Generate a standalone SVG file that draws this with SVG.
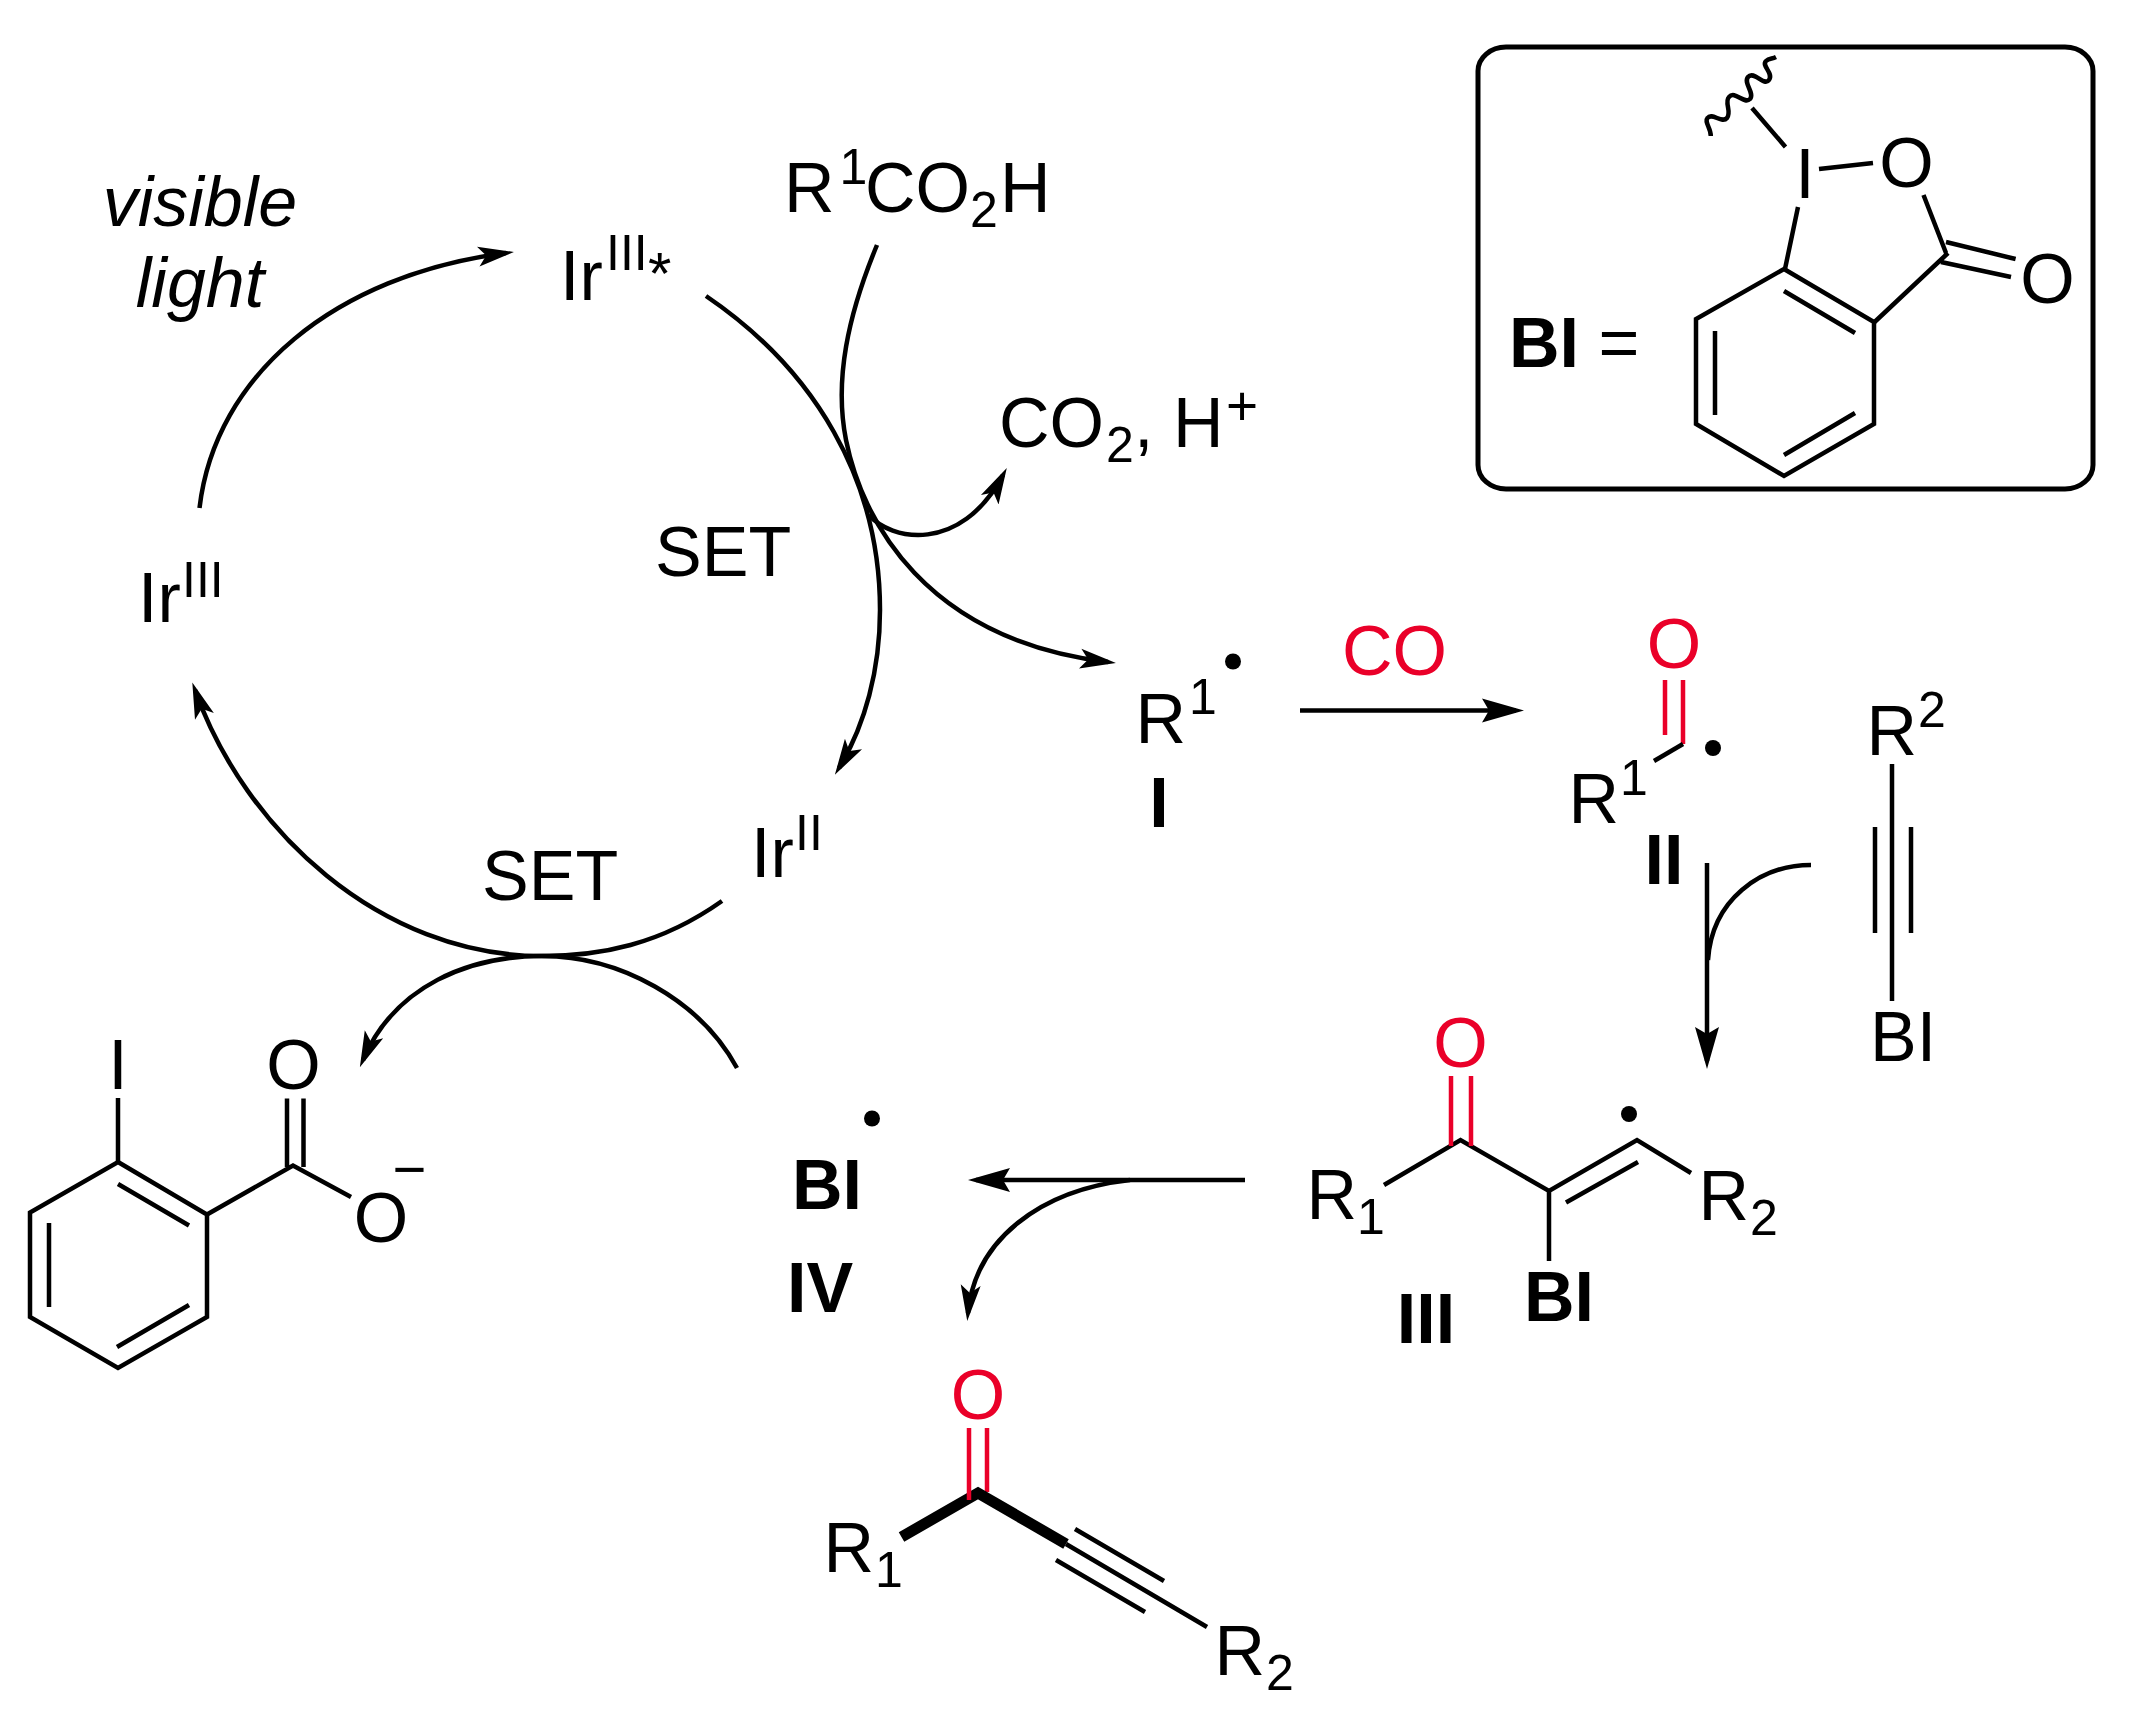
<svg xmlns="http://www.w3.org/2000/svg" width="2155" height="1717" viewBox="0 0 2155 1717">
<style>
text{font-family:"Liberation Sans",Arial,sans-serif;font-size:70px;fill:#000}
.s{font-size:50px}
.b{font-weight:700}
.i{font-style:italic}
.r{fill:#ea0029}
.m{text-anchor:middle}
.bond{stroke:#000;stroke-width:4.5;fill:none;stroke-linecap:butt;stroke-linejoin:miter}
.red{stroke:#ea0029;stroke-width:4.5;fill:none}
.c{stroke:#000;stroke-width:4.5;fill:none}
.arrow{marker-end:url(#sm)}
.big{marker-end:url(#lg)}
</style>
<defs>
<marker id="sm" markerUnits="userSpaceOnUse" markerWidth="38" markerHeight="24" viewBox="0 0 38 24" refX="28" refY="12" orient="auto"><path d="M36,12 L0,2 L8,12 L0,22 Z" fill="#000"/></marker>
<marker id="lg" markerUnits="userSpaceOnUse" markerWidth="44" markerHeight="28" viewBox="0 0 44 28" refX="34" refY="14" orient="auto"><path d="M42,14 L0,2 L7,14 L0,26 Z" fill="#000"/></marker>
</defs>
<rect width="2155" height="1717" fill="#fff"/>

<g id="connectors">
<path class="c arrow" d="M199.5,508 C215,375 335,275 506,253"/>
<path class="c arrow" d="M706,296 C815,370 880,480 880,610 C880,670 865,725 839,768"/>
<path class="c arrow" d="M877,245 C848,315 834,380 846,440 C862,520 925,640 1108,662"/>
<path class="c arrow" d="M869,515 C890,540 960,555 1003,475"/>
<path class="c arrow" d="M722,901 C660,945 600,956 542,956 C380,956 245,830 195,690"/>
<path class="c arrow" d="M737,1068 C700,1000 620,956 542,956 C470,956 395,985 363,1060"/>
<path class="c big" d="M1300,710.5 L1516,710.5"/>
<path class="c big" d="M1707,863 L1707,1061"/>
<path class="c" d="M1811,865 C1760,865 1712,900 1708,960"/>
<path class="c big" d="M1245,1180 L976,1180"/>
<path class="c arrow" d="M1130,1180 C1040,1190 975,1240 968,1313"/>
</g>

<g id="bi-box">
<rect x="1478" y="47" width="615" height="442" rx="28" ry="24" fill="none" stroke="#000" stroke-width="5"/>
<text x="1509" y="367"><tspan class="b">BI</tspan> =</text>
<path class="bond" d="M1784,269 L1874,322 L1874,424 L1784,476 L1696,424 L1696,319 Z"/>
<path class="bond" d="M1784,291 L1855,333 M1715,331 L1715,415 M1784,455 L1855,413"/>
<path class="bond" d="M1785,269 L1798,207 M1819,169 L1873,163 M1923.5,195 L1946,253 M1874.6,322 L1948,253 M1946,242 L2015.6,259 M1941,262 L2011,277 M1752,108 L1785.5,147"/>
<path class="bond" d="M1710.8,136 C1711,128 1704,122 1707.5,118 C1712,112 1722,124 1727,118 C1732,112 1724,102 1729,97 C1735,90 1744,105 1750,99 C1755,93 1743,83 1748,77 C1754,70 1764,87 1769,80 C1774,73 1761,66 1766,61 C1769,58 1772,59 1776,57"/>
<text class="m" x="1805" y="198">I</text>
<text class="m" x="1906.5" y="187">O</text>
<text class="m" x="2047.5" y="303">O</text>
</g>

<g id="visible-light">
<text class="i m" x="200" y="226">visible</text>
<text class="i m" x="200" y="307">light</text>
</g>

<g id="r1co2h">
<text x="784" y="212">R<tspan class="s" x="839.5" y="184">1</tspan><tspan x="865" y="212">CO</tspan><tspan class="s" x="970" y="227">2</tspan><tspan x="1000" y="212">H</tspan></text>
</g>
<g id="ir3-star">
<text x="560" y="300">Ir<tspan x="606" y="270" style="font-size:50px">III</tspan><tspan x="648" y="294" style="font-size:60px">*</tspan></text>
</g>
<g id="ir3">
<text x="138" y="622">Ir<tspan x="182" y="597" style="font-size:50px">III</tspan></text>
</g>
<g id="ir2">
<text x="751" y="877">Ir<tspan x="795" y="850" style="font-size:50px">II</tspan></text>
</g>
<g id="set1"><text x="655" y="576">SET</text></g>
<g id="set2"><text x="482" y="900">SET</text></g>
<g id="co2-h">
<text x="999" y="447">CO<tspan class="s" x="1106" y="462">2</tspan><tspan x="1134" y="447">, H</tspan><tspan x="1226" y="425" style="font-size:55px">+</tspan></text>
</g>

<g id="radical-I">
<text x="1135.5" y="743">R<tspan class="s" x="1189" y="714">1</tspan></text>
<circle cx="1233" cy="661.5" r="8"/>
<text class="b m" x="1159" y="827">I</text>
</g>
<g id="co-label"><text class="r" x="1342" y="675">CO</text></g>

<g id="acyl-II">
<path class="red" d="M1665,680 L1665,735 M1683,680 L1683,744"/>
<path class="bond" d="M1683,744 L1654,761"/>
<text class="r m" x="1674" y="668">O</text>
<circle cx="1713" cy="748" r="8"/>
<text x="1568.5" y="823">R<tspan class="s" x="1620" y="795">1</tspan></text>
<text class="b m" x="1664" y="884">II</text>
</g>

<g id="alkyne-reagent">
<text x="1866.5" y="755">R<tspan class="s" x="1918" y="727">2</tspan></text>
<path class="bond" d="M1892,764 L1892,1001 M1875,827 L1875,933 M1911,827 L1911,933"/>
<text x="1870" y="1061">BI</text>
</g>

<g id="vinyl-III">
<path class="bond" d="M1384,1185 L1460.5,1140 L1549,1191 L1637,1140 L1691,1173 M1566,1202.5 L1638,1162 M1549,1191 L1549,1261"/>
<path class="red" d="M1451,1076 L1451,1146 M1471,1076 L1471,1146"/>
<text class="r m" x="1460.5" y="1067">O</text>
<circle cx="1629" cy="1114" r="8"/>
<text x="1306.5" y="1219">R<tspan class="s" x="1357" y="1234">1</tspan></text>
<text x="1698.5" y="1219.5">R<tspan class="s" x="1750" y="1235">2</tspan></text>
<text class="b" x="1524" y="1321">BI</text>
<text class="b m" x="1426" y="1343">III</text>
</g>

<g id="bi-radical-IV">
<circle cx="872" cy="1118.5" r="8"/>
<text class="b" x="792" y="1209">BI</text>
<text class="b" x="787" y="1312">IV</text>
</g>

<g id="iodobenzoate">
<path class="bond" d="M118,1162 L207,1214.5 L207,1317 L118,1368 L30,1317 L30,1212.5 Z"/>
<path class="bond" d="M118,1184 L189,1225.5 M49,1223 L49,1307 M117,1347 L189,1305"/>
<path class="bond" d="M118,1162 L118,1098 M207,1214.5 L293,1165.5 L351,1197 M287,1098.5 L287,1167 M303.5,1098.5 L303.5,1167"/>
<text class="m" x="118" y="1089">I</text>
<text class="m" x="293.5" y="1089">O</text>
<text class="m" x="381" y="1242">O</text>
<text class="m" x="409.5" y="1189" style="font-size:58px">−</text>
</g>

<g id="ynone-product">
<path class="red" d="M987,1428 L987,1492"/>
<path d="M901.5,1537 L978,1493 L1066,1544" fill="none" stroke="#000" stroke-width="11"/>
<path class="red" d="M969,1428 L969,1500"/>
<path class="bond" d="M1066,1544 L1207,1627 M1075,1529 L1164,1581 M1056,1560 L1145,1612"/>
<text class="r m" x="978" y="1419">O</text>
<text x="823.5" y="1572">R<tspan class="s" x="875" y="1587">1</tspan></text>
<text x="1214.5" y="1675">R<tspan class="s" x="1266" y="1690">2</tspan></text>
</g>
</svg>
